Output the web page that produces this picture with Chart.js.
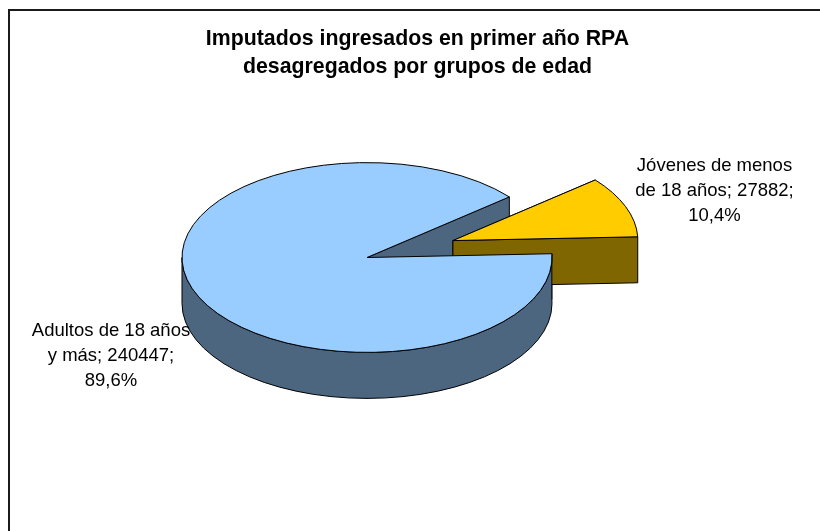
<!DOCTYPE html>
<html>
<head>
<meta charset="utf-8">
<title>Imputados ingresados</title>
<script src="https://cdn.jsdelivr.net/npm/chart.js@4/dist/chart.umd.min.js"></script>
<style>
  html, body { margin: 0; padding: 0; background: #fff; overflow: hidden; }
  canvas { display: block; }
</style>
</head>
<body>
<canvas id="chart" width="820" height="531"></canvas>
<script>
  const categories = ['Jóvenes de menos de 18 años', 'Adultos de 18 años y más'];
  const values = [27882, 240447];
  const titleLines = ['Imputados ingresados en primer año RPA', 'desagregados por grupos de edad'];
  const topColors = ['#FFCC00', '#99CCFF'];
  const sideColors = ['#7F6600', '#4D6680'];
  const explode = [92, 0];
  const labelSpots = [[714.5, 166], [111, 331]];

  const FONT = "'Liberation Sans', Arial, sans-serif";

  function geom(chart, i) {
    const arc = chart.getDatasetMeta(0).data[i];
    const o = chart.options.plugins.pie3d;
    const mid = (arc.startAngle + arc.endAngle) / 2;
    return {
      arc: arc,
      cx: o.cx + Math.cos(mid) * explode[i],
      cy: o.cy + Math.sin(mid) * explode[i] * o.squash,
      rx: arc.outerRadius,
      ry: arc.outerRadius * o.squash,
      a0: arc.startAngle,
      a1: arc.endAngle,
      depth: o.depth
    };
  }

  function paint(ctx, fill) {
    ctx.fillStyle = fill;
    ctx.fill();
    ctx.stroke();
  }

  // the two cut faces of a slice
  function drawWalls(ctx, g, fill) {
    [g.a0, g.a1].forEach(function(a) {
      const x = g.cx + Math.cos(a) * g.rx;
      const y = g.cy + Math.sin(a) * g.ry;
      ctx.beginPath();
      ctx.moveTo(g.cx, g.cy);
      ctx.lineTo(x, y);
      ctx.lineTo(x, y + g.depth);
      ctx.lineTo(g.cx, g.cy + g.depth);
      ctx.closePath();
      paint(ctx, fill);
    });
  }

  // rim of the slice, only the part that faces the viewer
  function drawRim(ctx, g, fill) {
    if (g.a1 <= 0) return;
    const end = Math.min(g.a1, Math.PI);
    ctx.beginPath();
    ctx.ellipse(g.cx, g.cy, g.rx, g.ry, 0, g.a0, end);
    ctx.ellipse(g.cx, g.cy + g.depth, g.rx, g.ry, 0, end, g.a0, true);
    ctx.closePath();
    paint(ctx, fill);
  }

  // top face: the library draws the arc, squashed into an ellipse
  function drawTop(ctx, g, chart) {
    const o = chart.options.plugins.pie3d;
    ctx.save();
    ctx.translate(g.cx, g.cy);
    ctx.scale(1, o.squash);
    ctx.translate(-g.arc.x, -g.arc.y);
    g.arc.draw(ctx);
    ctx.restore();
    ctx.beginPath();
    ctx.moveTo(g.cx, g.cy);
    ctx.ellipse(g.cx, g.cy, g.rx, g.ry, 0, g.a0, g.a1);
    ctx.closePath();
    ctx.stroke();
  }

  function wrapLabel(ctx, text, maxWidth) {
    const lines = [];
    let line = '';
    text.split(' ').forEach(function(word) {
      const next = line ? line + ' ' + word : word;
      if (line && ctx.measureText(next).width > maxWidth) {
        lines.push(line);
        line = word;
      } else {
        line = next;
      }
    });
    lines.push(line);
    return lines;
  }

  const pie3d = {
    id: 'pie3d',
    beforeDraw: function(chart) {
      const ctx = chart.ctx;
      ctx.save();
      ctx.strokeStyle = '#1a1a1a';
      ctx.lineWidth = 2;
      ctx.strokeRect(9, 10, chart.width + 20, chart.height + 20);
      ctx.restore();
    },
    beforeDatasetsDraw: function(chart) {
      const ctx = chart.ctx;
      const back = geom(chart, 1);
      const front = geom(chart, 0);
      ctx.save();
      ctx.strokeStyle = '#000';
      ctx.lineWidth = 1;
      ctx.lineJoin = 'round';
      drawWalls(ctx, back, sideColors[1]);
      drawWalls(ctx, front, sideColors[0]);
      drawTop(ctx, front, chart);
      drawRim(ctx, back, sideColors[1]);
      drawTop(ctx, back, chart);
      ctx.restore();
      return false;
    },
    afterDraw: function(chart) {
      const ctx = chart.ctx;
      const o = chart.options.plugins.pie3d;
      const total = values.reduce(function(a, b) { return a + b; }, 0);
      ctx.save();
      ctx.font = o.labelSize + 'px ' + FONT;
      ctx.fillStyle = '#000';
      ctx.textAlign = 'center';
      ctx.textBaseline = 'middle';
      categories.forEach(function(name, i) {
        const pct = (values[i] / total * 100).toFixed(1).replace('.', ',') + '%';
        const lines = wrapLabel(ctx, name + '; ' + values[i] + '; ' + pct, o.labelWidth);
        lines.forEach(function(line, n) {
          ctx.fillText(line, labelSpots[i][0], labelSpots[i][1] + n * o.labelLeading);
        });
      });
      ctx.restore();
    }
  };

  new Chart(document.getElementById('chart'), {
    type: 'pie',
    plugins: [pie3d],
    data: {
      labels: categories,
      datasets: [{
        data: values,
        backgroundColor: topColors,
        borderWidth: 0
      }]
    },
    options: {
      responsive: false,
      animation: false,
      rotation: 50.3,
      radius: 185,
      layout: { padding: { left: 15 } },
      plugins: {
        legend: { display: false },
        tooltip: { enabled: false },
        title: {
          display: true,
          text: titleLines,
          color: '#000',
          font: { family: FONT, size: 21.3, weight: 'bold', lineHeight: 1.33 },
          padding: { top: 25, bottom: 0 }
        },
        pie3d: {
          cx: 367,
          cy: 257.5,
          squash: 0.513,
          depth: 46,
          labelSize: 18.5,
          labelWidth: 165,
          labelLeading: 25
        }
      }
    }
  });
</script>
</body>
</html>
